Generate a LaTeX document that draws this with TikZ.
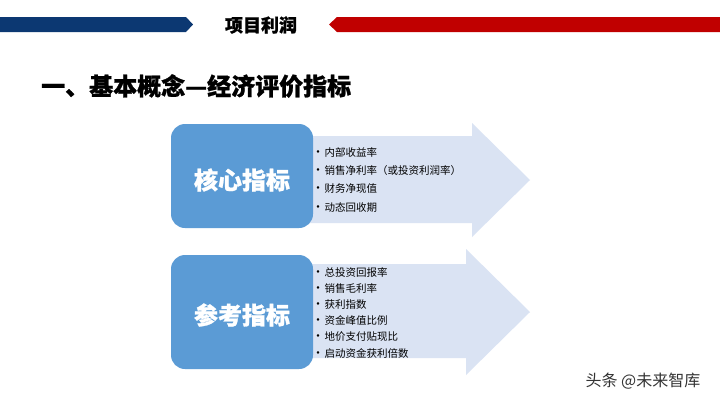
\documentclass[tikz,border=0pt]{standalone}
\usepackage{fontspec}
\setmainfont{Noto Sans CJK SC}
\newfontfamily\heavyfont{Noto Sans CJK SC}[BoldFeatures={FakeBold=1}]
\usetikzlibrary{positioning}
\definecolor{navybar}{RGB}{12,56,114}
\definecolor{redbar}{RGB}{192,0,0}
\definecolor{keyblue}{RGB}{91,155,213}
\definecolor{paleblue}{RGB}{218,227,243}
\definecolor{markgray}{RGB}{51,51,51}

\begin{document}
\begin{tikzpicture}[x=1pt, y=-1pt,
  keybox/.style={fill=keyblue, rounded corners=14pt, minimum width=142pt},
  keytext/.style={text=white, font=\heavyfont\fontsize{24}{24}\selectfont\bfseries},
  item/.style={anchor=west, inner sep=0pt, font=\fontsize{10.5}{12}\selectfont},
  flow/.style={fill=paleblue},
]
\useasboundingbox[fill=white] (0,0) rectangle (720,405);

% header bars
\fill[navybar] (0,17) -- (186,17) -- (193,24.5) -- (186,32) -- (0,32) -- cycle;
\fill[redbar] (720,17) -- (337,17) -- (329,24.5) -- (337,32) -- (720,32) -- cycle;
\node[font=\heavyfont\fontsize{18}{18}\selectfont\bfseries] (title) at (261,25) {项目利润};
\node[anchor=west, inner sep=0pt, font=\heavyfont\fontsize{24}{24}\selectfont\bfseries]
  (subtitle) at (41,86) {一、基本概念—经济评价指标};

% arrows behind the boxes
\fill[flow] (290,136) -- (472,136) -- (472,123) -- (530,180) -- (472,237)
  -- (472,223) -- (290,223) -- cycle;
\fill[flow] (290,264) -- (466,264) -- (466,249) -- (530,312) -- (466,375)
  -- (466,358) -- (290,358) -- cycle;

% key boxes
\node[keybox, minimum height=104pt] (core) at (242,176) {};
\node[keytext] (coretext) at (242,180) {核心指标};
\node[keybox, minimum height=114pt] (ref) at (242,312) {};
\node[keytext] (reftext) at (242,315) {参考指标};

% core items
\foreach \txt [count=\i] in {内部收益率, 销售净利率（或投资利润率）, 财务净现值, 动态回收期}
  \node[item] (core\i) at (312,{133.5+18.5*\i}) {{\large•}\hspace{0.5pt}\txt};

% reference items
\foreach \txt [count=\i] in {总投资回报率, 销售毛利率, 获利指数, 资金峰值比例, 地价支付贴现比, 启动资金获利倍数}
  \node[item] (ref\i) at (312,{255.8+16.2*\i}) {{\large•}\hspace{0.5pt}\txt};

% watermark
\node[text=markgray, font=\fontsize{16}{16}\selectfont] (mark) at (643,381) {头条 @未来智库};
\end{tikzpicture}
\end{document}
